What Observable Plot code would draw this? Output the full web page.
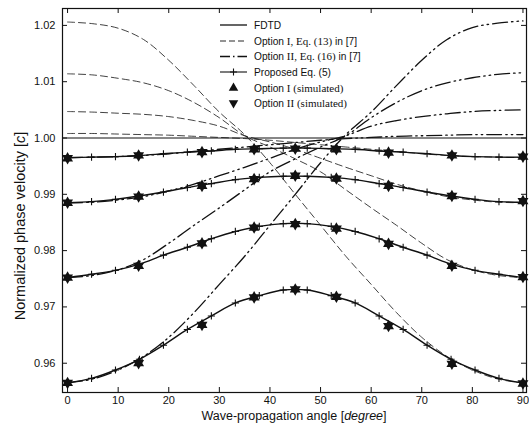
<!DOCTYPE html>
<html><head><meta charset="utf-8">
<script src="https://cdn.jsdelivr.net/npm/d3@7"></script>
<script src="https://cdn.jsdelivr.net/npm/@observablehq/plot@0.6"></script>
<style>body{margin:0;background:#fff} svg{display:block}</style>
</head><body><div id="chart"></div>
<script>
// ---------- data ----------
const xTicks = [0, 10, 20, 30, 40, 50, 60, 70, 80, 90];
const yTicks = [0.96, 0.97, 0.98, 0.99, 1.00, 1.01, 1.02];
const refLine = [1.0];

// angles of the "+" markers (Proposed Eq. (5)) and FDTD curve samples
const propAngles = [0, 4.74, 9.47, 14.21, 18.95, 23.68, 28.42, 33.16, 37.89, 42.63,
                    47.37, 52.11, 56.84, 61.58, 66.32, 71.05, 75.79, 80.53, 85.26, 90];
const prop1 = [0.9965, 0.9966, 0.9967, 0.9969, 0.9972, 0.9975, 0.9977, 0.9980, 0.9981, 0.9982,
               0.9982, 0.9981, 0.9980, 0.9977, 0.9975, 0.9972, 0.9969, 0.9967, 0.9966, 0.9966];
const prop2 = [0.9885, 0.9887, 0.9891, 0.9897, 0.9904, 0.9912, 0.9919, 0.9926, 0.9930, 0.9932,
               0.9932, 0.9930, 0.9926, 0.9919, 0.9912, 0.9904, 0.9897, 0.9891, 0.9887, 0.9886];
const prop3 = [0.9752, 0.9758, 0.9765, 0.9776, 0.9792, 0.9806, 0.9821, 0.9834, 0.9843, 0.9848,
               0.9848, 0.9843, 0.9834, 0.9821, 0.9806, 0.9792, 0.9776, 0.9765, 0.9758, 0.9752];
const prop4 = [0.9565, 0.9573, 0.9588, 0.9607, 0.9632, 0.9660, 0.9684, 0.9707, 0.9720, 0.9730,
               0.9730, 0.9720, 0.9707, 0.9684, 0.9660, 0.9632, 0.9607, 0.9588, 0.9573, 0.9565];

// simulated points (Option I ▲ and Option II ▼)
const simAngles = [0, 14.04, 26.57, 36.87, 45, 53.13, 63.43, 75.96, 90];
const sim1 = [0.9964, 0.9969, 0.9975, 0.9980, 0.9981, 0.9980, 0.9974, 0.9969, 0.9967];
const sim2 = [0.9885, 0.9896, 0.9915, 0.9927, 0.9933, 0.9928, 0.9915, 0.9897, 0.9888];
const sim3 = [0.9752, 0.9773, 0.9813, 0.9841, 0.9847, 0.9839, 0.9812, 0.9773, 0.9753];
const sim4 = [0.9565, 0.9600, 0.9668, 0.9717, 0.9731, 0.9718, 0.9666, 0.9599, 0.9564];

// Option I (Eq. 13) dashed and Option II (Eq. 16) dash-dot curves
const optAngles = [0, 5, 10, 15, 20, 25, 30, 35, 40, 45, 50, 55, 60, 65, 70, 75, 80, 85, 90];
const optI1 = [1.0008, 1.0008, 1.0007, 1.0006, 1.0005, 1.0003, 1.0001, 0.9999, 0.9996, 0.9992,
               0.9988, 0.9984, 0.9980, 0.9976, 0.9972, 0.9969, 0.9967, 0.9966, 0.9965];
const optI2 = [1.0047, 1.0046, 1.0044, 1.0042, 1.0038, 1.0031, 1.0021, 1.0004, 0.9993, 0.9980,
               0.9964, 0.9948, 0.9933, 0.9918, 0.9906, 0.9896, 0.9890, 0.9886, 0.9885];
const optI3 = [1.0114, 1.0112, 1.0106, 1.0098, 1.0084, 1.0063, 1.0036, 1.0004, 0.9984, 0.9963,
               0.9940, 0.9908, 0.9876, 0.9845, 0.9813, 0.9784, 0.9766, 0.9756, 0.9752];
const optI4 = [1.0206, 1.0203, 1.0195, 1.0175, 1.0138, 1.0093, 1.0046, 1.0006, 0.9956, 0.9900,
               0.9845, 0.9790, 0.9740, 0.9690, 0.9646, 0.9612, 0.9588, 0.9572, 0.9565];
const optII1 = [0.9965, 0.9966, 0.9967, 0.9969, 0.9972, 0.9976, 0.9980, 0.9984, 0.9988, 0.9992,
                0.9996, 0.9999, 1.0001, 1.0003, 1.0004, 1.0005, 1.0006, 1.0006, 1.0006];
const optII2 = [0.9885, 0.9886, 0.9890, 0.9896, 0.9906, 0.9918, 0.9933, 0.9948, 0.9964, 0.9980,
                0.9993, 1.0004, 1.0021, 1.0031, 1.0038, 1.0043, 1.0047, 1.0049, 1.0050];
const optII3 = [0.9752, 0.9756, 0.9766, 0.9784, 0.9813, 0.9845, 0.9876, 0.9908, 0.9940, 0.9963,
                0.9984, 1.0004, 1.0036, 1.0063, 1.0084, 1.0098, 1.0107, 1.0113, 1.0116];
const optII4 = [0.9565, 0.9572, 0.9588, 0.9612, 0.9646, 0.9690, 0.9740, 0.9790, 0.9845, 0.9900,
                0.9956, 1.0006, 1.0046, 1.0093, 1.0138, 1.0175, 1.0196, 1.0204, 1.0208];

// ---------- tables ----------
const toRows = (angles, series) => series.flatMap((s, k) => s.map((v, i) => ({x: angles[i], y: v, k})));
const propRows = toRows(propAngles, [prop1, prop2, prop3, prop4]);
const simRows = toRows(simAngles, [sim1, sim2, sim3, sim4]);
const optIRows = toRows(optAngles, [optI1, optI2, optI3, optI4]);
const optIIRows = toRows(optAngles, [optII1, optII2, optII3, optII4]);

// ---------- symbols ----------
const plusSym = {draw(ctx, size) { const r = Math.sqrt(size / Math.PI);
  ctx.moveTo(-r, 0); ctx.lineTo(r, 0); ctx.moveTo(0, -r); ctx.lineTo(0, r); }};
const triUp = {draw(ctx, size) { const r = Math.sqrt(size / Math.PI);
  ctx.moveTo(0, -r); ctx.lineTo(r * 0.866, r / 2); ctx.lineTo(-r * 0.866, r / 2); ctx.closePath(); }};
const triDown = {draw(ctx, size) { const r = Math.sqrt(size / Math.PI);
  ctx.moveTo(0, r); ctx.lineTo(r * 0.866, -r / 2); ctx.lineTo(-r * 0.866, -r / 2); ctx.closePath(); }};

const W = 529, H = 429, mL = 62, mR = 3, mT = 8, mB = 37;
const iW = W - mL - mR, iH = H - mT - mB;

const chart = Plot.plot({
  width: W, height: H,
  marginLeft: mL, marginRight: mR, marginTop: mT, marginBottom: mB,
  style: {fontFamily: "'Liberation Sans', Arial, sans-serif", color: "#111", background: "#fff"},
  x: {domain: [-1, 90.7], label: null},
  y: {domain: [0.9548, 1.0230], label: null},
  marks: [
    Plot.axisX(xTicks, {tickSize: 0, tickPadding: 4, fontSize: 11, tickFormat: d => String(d), label: null}),
    Plot.axisY(yTicks, {tickSize: 0, tickPadding: 7, fontSize: 11, tickFormat: d3.format(".2f"), label: null}),
    Plot.ruleY(refLine, {stroke: "#111", strokeWidth: 1.1}),
    Plot.line(optIRows, {x: "x", y: "y", z: "k", curve: "catmull-rom", stroke: "#111", strokeWidth: 0.8, strokeDasharray: "7,4"}),
    Plot.line(optIIRows, {x: "x", y: "y", z: "k", curve: "catmull-rom", stroke: "#111", strokeWidth: 1.3, strokeDasharray: "15,4,1.5,4,1.5,4"}),
    Plot.line(propRows, {x: "x", y: "y", z: "k", curve: "catmull-rom", stroke: "#111", strokeWidth: 1.4}),
    Plot.dot(propRows, {x: "x", y: "y", symbol: plusSym, r: 3.6, fill: "none", stroke: "#111", strokeWidth: 1.1}),
    Plot.dot(simRows, {x: "x", y: "y", symbol: triUp, r: 6.3, fill: "#111", stroke: "none"}),
    Plot.dot(simRows, {x: "x", y: "y", symbol: triDown, r: 6.3, fill: "#111", stroke: "none"}),
    // inward ticks on all four sides
    Plot.tickX(xTicks, {x: d => d, insetTop: iH - 5, stroke: "#111", strokeWidth: 1}),
    Plot.tickX(xTicks, {x: d => d, insetBottom: iH - 5, stroke: "#111", strokeWidth: 1}),
    Plot.tickY(yTicks, {y: d => d, insetRight: iW - 5, stroke: "#111", strokeWidth: 1}),
    Plot.tickY(yTicks, {y: d => d, insetLeft: iW - 5, stroke: "#111", strokeWidth: 1}),
    Plot.frame({stroke: "#111", strokeWidth: 1.2})
  ]
});
document.getElementById("chart").appendChild(chart);

// ---------- axis titles and legend ----------
const svg = d3.select(chart);
const sans = "'Liberation Sans', Arial, sans-serif";
const serif = "'Liberation Serif', 'Times New Roman', serif";

const xt = svg.append("text").attr("x", mL + iW / 2).attr("y", 420)
  .attr("text-anchor", "middle").attr("font-family", sans).attr("font-size", 12.5).attr("fill", "#111");
xt.append("tspan").text("Wave-propagation angle [");
xt.append("tspan").attr("font-style", "italic").text("degree");
xt.append("tspan").text("]");

const yt = svg.append("text").attr("transform", "translate(25,226) rotate(-90)")
  .attr("text-anchor", "middle").attr("font-family", sans).attr("font-size", 14.5).attr("fill", "#111");
yt.append("tspan").text("Normalized phase velocity [");
yt.append("tspan").attr("font-style", "italic").text("c");
yt.append("tspan").text("]");

const legendRows = [
  {y: 25, kind: "solid", parts: [["FDTD", sans]]},
  {y: 41, kind: "dash", parts: [["Option ", sans], ["I, Eq. (13)", serif], [" in [7]", sans]]},
  {y: 56.5, kind: "dashdot", parts: [["Option ", sans], ["II, Eq. (16)", serif], [" in [7]", sans]]},
  {y: 72, kind: "plus", parts: [["Proposed Eq. (5)", sans]]},
  {y: 88, kind: "up", parts: [["Option ", sans], ["I (simulated)", serif]]},
  {y: 103, kind: "down", parts: [["Option ", sans], ["II (simulated)", serif]]}
];
const lg = svg.append("g");
const sx0 = 220, sx1 = 247, tx = 254;
for (const r of legendRows) {
  if (r.kind === "solid" || r.kind === "dash" || r.kind === "dashdot" || r.kind === "plus") {
    const l = lg.append("line").attr("x1", sx0).attr("x2", sx1).attr("y1", r.y).attr("y2", r.y)
      .attr("stroke", "#111");
    if (r.kind === "solid") l.attr("stroke-width", 1.3);
    if (r.kind === "dash") l.attr("stroke-width", 0.9).attr("stroke-dasharray", "6,3");
    if (r.kind === "dashdot") l.attr("stroke-width", 1.3).attr("stroke-dasharray", "10,3,1.5,3");
    if (r.kind === "plus") {
      l.attr("stroke-width", 1.1);
      lg.append("path").attr("d", `M${(sx0+sx1)/2-3.5},${r.y}h7M${(sx0+sx1)/2},${r.y-3.5}v7`)
        .attr("stroke", "#111").attr("stroke-width", 1.1);
    }
  } else {
    const cx = (sx0 + sx1) / 2, R = 5.5;
    const d = r.kind === "up"
      ? `M${cx},${r.y - R}L${cx + R*0.866},${r.y + R/2}L${cx - R*0.866},${r.y + R/2}Z`
      : `M${cx},${r.y + R}L${cx + R*0.866},${r.y - R/2}L${cx - R*0.866},${r.y - R/2}Z`;
    lg.append("path").attr("d", d).attr("fill", "#111");
  }
  const t = lg.append("text").attr("x", tx).attr("y", r.y).attr("dy", "0.36em")
    .attr("text-anchor", "start").attr("fill", "#111");
  for (const [s, f] of r.parts) t.append("tspan").attr("font-family", f)
    .attr("font-size", f === serif ? 11 : 10.2).text(s);
}
</script></body></html>
